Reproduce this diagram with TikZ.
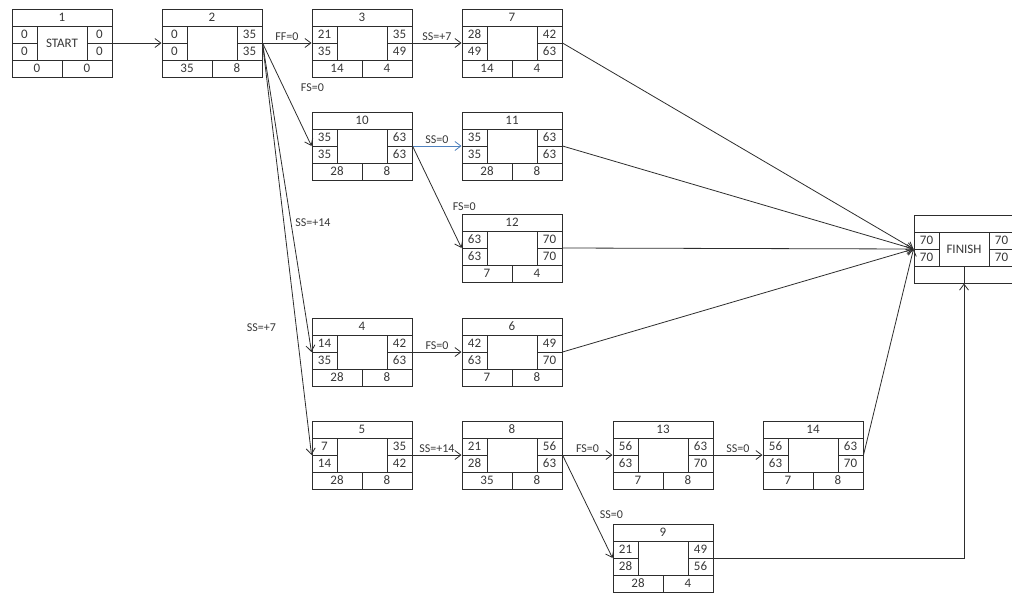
\documentclass[tikz,border=0pt]{standalone}
\usepackage{fontspec}
\setmainfont{Carlito}
\usetikzlibrary{arrows.meta}
\usetikzlibrary{positioning}
\usetikzlibrary{calc}

\definecolor{linegray}{RGB}{45,45,45}
\definecolor{textgray}{RGB}{55,55,55}
\definecolor{ssblue}{RGB}{79,129,189}

% cells of one activity box: box, id, ES, EF, LS, LF, bottom left, bottom right
\newcommand{\actcells}[8]{%
  \draw[cell] ($(#1)+(-50,-17)$) -- ($(#1)+(50,-17)$);
  \draw[cell] ($(#1)+(-50,17)$) -- ($(#1)+(50,17)$);
  \draw[cell] ($(#1)+(-50,0)$) -- ($(#1)+(-25,0)$);
  \draw[cell] ($(#1)+(25,0)$) -- ($(#1)+(50,0)$);
  \draw[cell] ($(#1)+(-25,-17)$) -- ($(#1)+(-25,17)$);
  \draw[cell] ($(#1)+(25,-17)$) -- ($(#1)+(25,17)$);
  \draw[cell] ($(#1)+(0,17)$) -- ($(#1)+(0,34)$);
  \node[celltext] (#1id) at ($(#1)+(0,-25.5)$) {#2};
  \node[celltext] (#1es) at ($(#1)+(-37.5,-8.5)$) {#3};
  \node[celltext] (#1ef) at ($(#1)+(37.5,-8.5)$) {#4};
  \node[celltext] (#1ls) at ($(#1)+(-37.5,8.5)$) {#5};
  \node[celltext] (#1lf) at ($(#1)+(37.5,8.5)$) {#6};
  \node[celltext] (#1bl) at ($(#1)+(-25,25.5)$) {#7};
  \node[celltext] (#1br) at ($(#1)+(25,25.5)$) {#8};
}

\begin{document}
\begin{tikzpicture}[x=1pt, y=-1pt,
  actbox/.style={rectangle, draw=linegray, line width=1pt, minimum width=100pt, minimum height=68pt, inner sep=0pt, text=textgray, font=\fontsize{13}{15}\selectfont},
  cell/.style={draw=linegray, line width=1pt},
  celltext/.style={inner sep=0pt, text=textgray, font=\fontsize{13}{15}\selectfont},
  link/.style={draw=linegray, line width=0.8pt, -{Straight Barb[length=6pt, width=9pt]}},
  lbl/.style={inner sep=1pt, text=textgray, font=\fontsize{12}{14}\selectfont}]

\useasboundingbox (0,0) rectangle (1012,592);

\node[actbox] (n1) at (62,43) {START};
\node[actbox] (n2) at (212,43) {};
\node[actbox] (n3) at (362,43) {};
\node[actbox] (n7) at (512,43) {};
\node[actbox] (n10) at (362,146) {};
\node[actbox] (n11) at (512,146) {};
\node[actbox] (n12) at (512,248) {};
\node[actbox] (n4) at (362,352) {};
\node[actbox] (n6) at (512,352) {};
\node[actbox] (n5) at (362,455) {};
\node[actbox] (n8) at (512,455) {};
\node[actbox] (n13) at (663,455) {};
\node[actbox] (n14) at (813,455) {};
\node[actbox] (n9) at (663,558) {};
\node[actbox] (fin) at (964,249) {FINISH};

\actcells{n1}{1}{0}{0}{0}{0}{0}{0}
\actcells{n2}{2}{0}{35}{0}{35}{35}{8}
\actcells{n3}{3}{21}{35}{35}{49}{14}{4}
\actcells{n7}{7}{28}{42}{49}{63}{14}{4}
\actcells{n10}{10}{35}{63}{35}{63}{28}{8}
\actcells{n11}{11}{35}{63}{35}{63}{28}{8}
\actcells{n12}{12}{63}{70}{63}{70}{7}{4}
\actcells{n4}{4}{14}{42}{35}{63}{28}{8}
\actcells{n6}{6}{42}{49}{63}{70}{7}{8}
\actcells{n5}{5}{7}{35}{14}{42}{28}{8}
\actcells{n8}{8}{21}{56}{28}{63}{35}{8}
\actcells{n13}{13}{56}{63}{63}{70}{7}{8}
\actcells{n14}{14}{56}{63}{63}{70}{7}{8}
\actcells{n9}{9}{21}{49}{28}{56}{28}{4}
\actcells{fin}{}{70}{70}{70}{70}{}{}

\draw[link] (n1.east) -- (n2.west);
\draw[link] (n2.east) -- node[lbl, above=1pt] {FF=0} (n3.west);
\draw[link] (n2.east) -- node[lbl, pos=.43, right=16pt] {FS=0} (n10.west);
\draw[link] (n2.east) -- node[lbl, pos=.58, right=3pt] {SS=+14} (n4.west);
\draw[link] (n2.east) -- node[lbl, pos=.69, left=19pt] {SS=+7} (n5.west);
\draw[link] (n3.east) -- node[lbl, above=1pt] {SS=+7} (n7.west);
\draw[link, draw=ssblue] (n10.east) -- node[lbl, above=1pt] {SS=0} (n11.west);
\draw[link] (n10.east) -- node[lbl, pos=.59, right=10pt] {FS=0} (n12.west);
\draw[link] (n4.east) -- node[lbl, above=1pt] {FS=0} (n6.west);
\draw[link] (n5.east) -- node[lbl, above=1pt] {SS=+14} (n8.west);
\draw[link] (n8.east) -- node[lbl, above=1pt] {FS=0} (n13.west);
\draw[link] (n8.east) -- node[lbl, pos=.58, right=7pt] {SS=0} (n9.west);
\draw[link] (n13.east) -- node[lbl, above=1pt] {SS=0} (n14.west);
\foreach \src in {n7,n11,n12,n6,n14}
  \draw[link] (\src.east) -- (fin.west);
\draw[link] (n9.east) -| (fin.south);

\end{tikzpicture}
\end{document}
